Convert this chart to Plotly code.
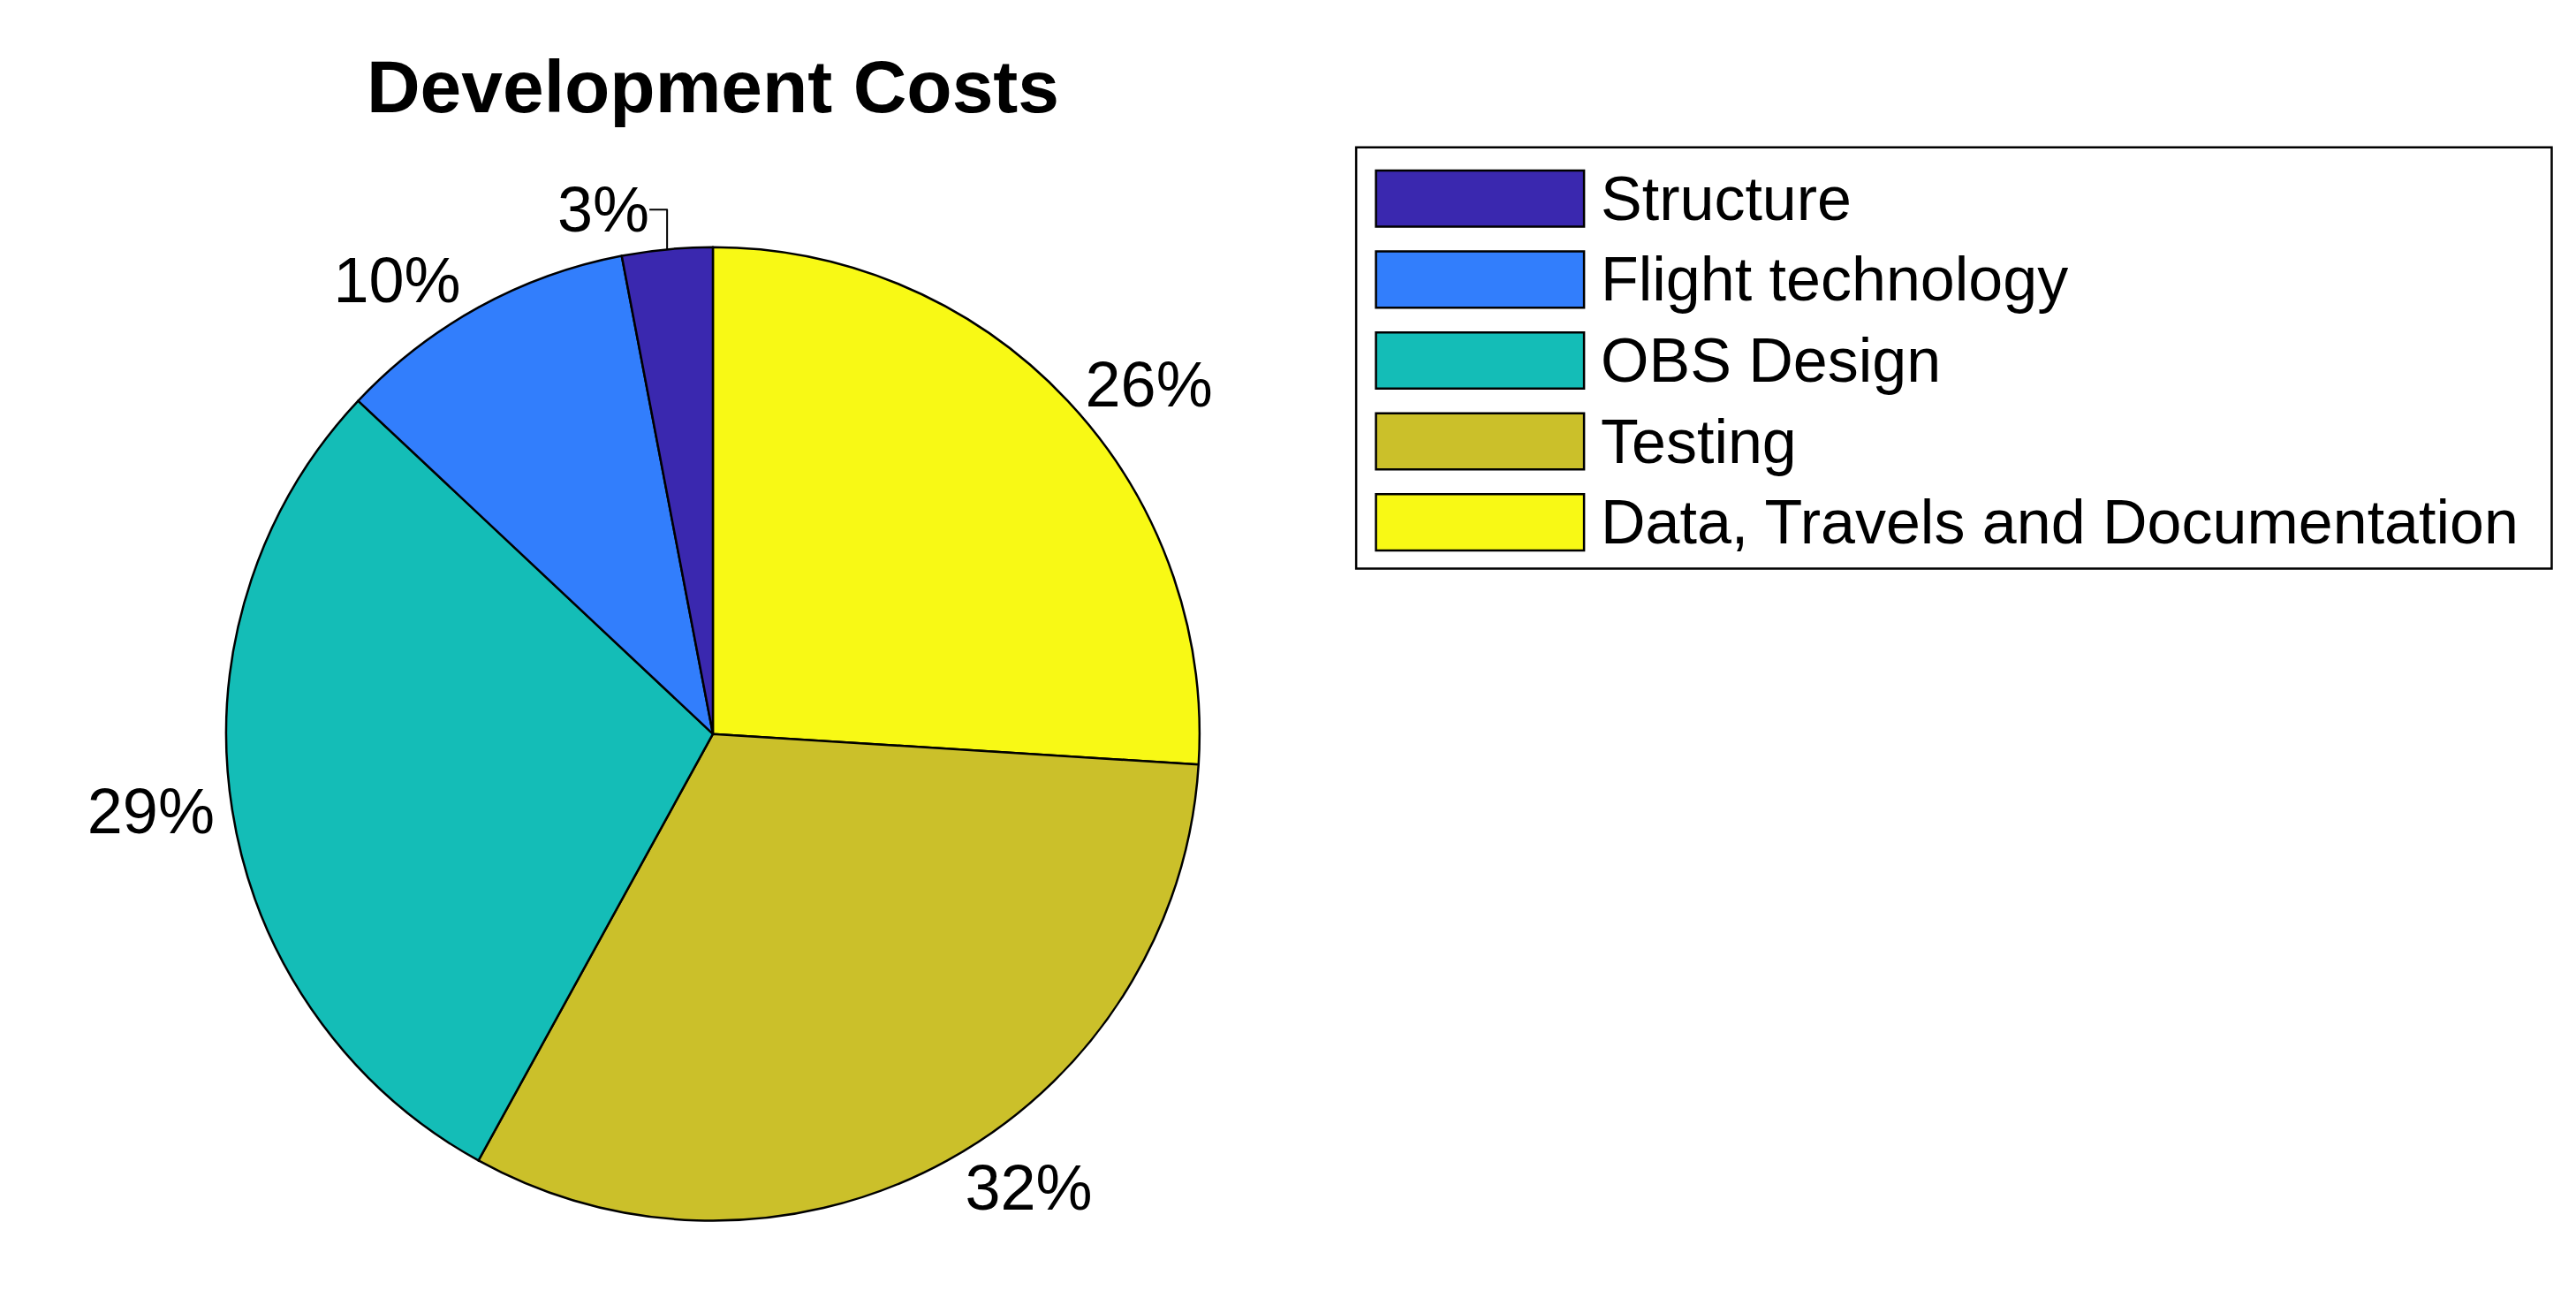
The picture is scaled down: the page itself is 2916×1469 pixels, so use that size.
import plotly.graph_objects as go

labels = ["Structure", "Flight technology", "OBS Design", "Testing", "Data, Travels and Documentation"]
values = [3, 10, 29, 32, 26]
colors = ["#3A28AF", "#327EFC", "#14BDB7", "#CBC02A", "#F8F915"]

fig = go.Figure(go.Pie(
    labels=labels[::-1], values=values[::-1], sort=False, direction="clockwise", rotation=0,
    marker=dict(colors=colors[::-1], line=dict(color="black", width=2.5)),
    textinfo="percent", textposition="outside", texttemplate="%{percent:.0%}",
    textfont=dict(size=72, color="black", family="Liberation Sans"),
    domain=dict(x=[0.085, 0.463], y=[0.065, 0.815]),
    showlegend=False,
))

# manual legend
H = 786.0
W = 1560.0
shapes = [dict(type="rect", xref="paper", yref="paper", x0=817/W, x1=1541/W,
               y0=1-340/H, y1=1-85/H, line=dict(color="black", width=2.5), fillcolor="white")]
annotations = []
for i, (lab, col) in enumerate(zip(labels, colors)):
    yc = 1 - (116 + 49 * i) / H
    shapes.append(dict(type="rect", xref="paper", yref="paper", x0=829/W, x1=955/W,
                       y0=yc - 17/H, y1=yc + 17/H, fillcolor=col, line=dict(color="black", width=2.5)))
    annotations.append(dict(text=lab, xref="paper", yref="paper", x=964/W, y=yc, xanchor="left",
                            yanchor="middle", showarrow=False, font=dict(size=70, color="black")))

fig.update_layout(
    width=2916, height=1469, paper_bgcolor="white", plot_bgcolor="white",
    margin=dict(l=0, r=0, t=0, b=0),
    font=dict(family="Liberation Sans", color="black"),
    title=dict(text="<b>Development Costs</b>", x=0.274, xanchor="center", y=0.939, yanchor="middle",
               font=dict(size=84, color="black")),
    shapes=shapes, annotations=annotations,
)
fig.write_html("out.html")
